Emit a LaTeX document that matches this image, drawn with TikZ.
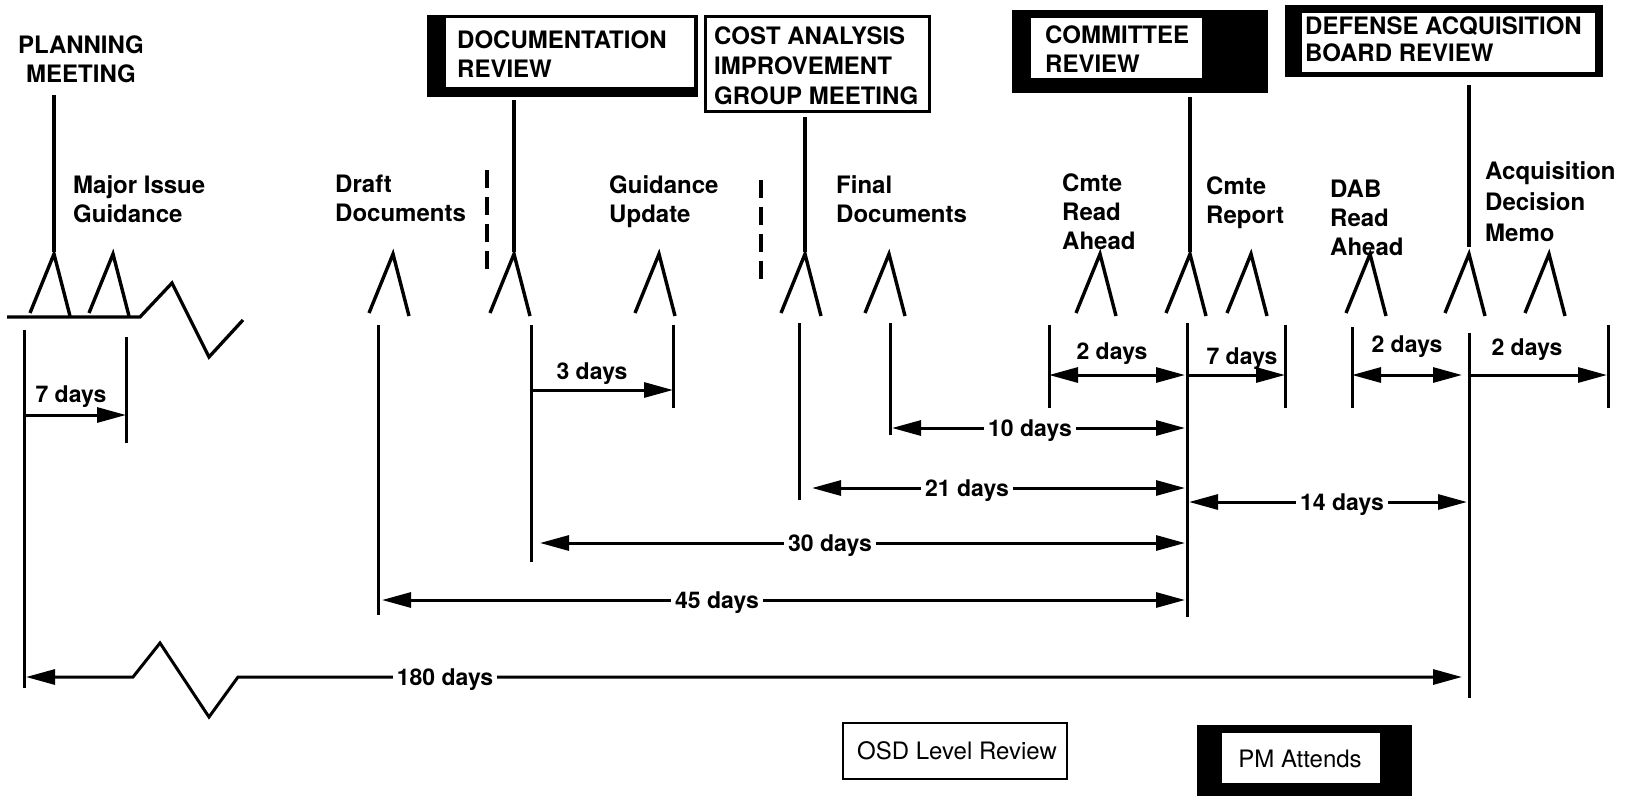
\documentclass[tikz,border=0pt]{standalone}
\usepackage{fontspec}
\setmainfont{TeX Gyre Heros}
\usetikzlibrary{arrows.meta}
\begin{document}
\begin{tikzpicture}[x=1pt,y=-1pt,
  ln/.style={line width=3.3pt},
  dim/.style={line width=3pt},
  >={Triangle[length=29pt,width=15pt]},
  hd/.style={font=\fontsize{24}{29}\selectfont\bfseries,align=left,anchor=north west,inner sep=0pt},
  dl/.style={font=\fontsize{23}{29}\selectfont\bfseries,inner sep=0pt,anchor=base},
  il/.style={font=\fontsize{23}{29}\selectfont\bfseries,anchor=base,fill=white,inner xsep=4pt,inner ysep=1pt},
  tri/.pic={\draw[line width=3.4pt,line join=miter] (-24,59) -- (0,0) -- (16,62);},
  dashln/.style={line width=3.3pt,dash pattern=on 18pt off 9pt}
]
\useasboundingbox (0,0) rectangle (1630,796);

% ---------- header boxes ----------
\fill (427,15) rectangle (698,97);
\fill[white] (446,18) rectangle (694,87);
\node[hd] (doc) at (457,31) {DOCUMENTATION\\REVIEW};

\draw[line width=3pt,fill=white] (705.5,16.5) rectangle (929.5,111.5);
\node[hd,font=\fontsize{24}{30}\selectfont\bfseries] (cost) at (714,27) {COST ANALYSIS\\IMPROVEMENT\\GROUP MEETING};

\fill (1012,10) rectangle (1268,93);
\fill[white] (1031,18) rectangle (1202,78);
\node[hd] (cmte) at (1045,26) {COMMITTEE\\REVIEW};

\fill (1285,5) rectangle (1603,77);
\fill[white] (1302,13) rectangle (1595,72);
\node[hd,font=\fontsize{24}{26.5}\selectfont\bfseries] (dab) at (1305,17) {DEFENSE ACQUISITION\\BOARD REVIEW};

\node[hd,align=center,anchor=north] (plan) at (81,36) {PLANNING\\MEETING};

% ---------- event labels ----------
\node[hd] (mig) at (73,175) {Major Issue\\Guidance};
\node[hd] (dd) at (335,175) {Draft\\Documents};
\node[hd] (gu) at (609,175) {Guidance\\Update};
\node[hd] (fd) at (836,175) {Final\\Documents};
\node[hd] (cra) at (1062,174) {Cmte\\Read\\Ahead};
\node[hd] (cr) at (1206,177) {Cmte\\Report};
\node[hd] (dra) at (1330,180) {DAB\\Read\\Ahead};
\node[hd,font=\fontsize{24}{31}\selectfont\bfseries] (adm) at (1485,161) {Acquisition\\Decision\\Memo};

% ---------- upper milestone lines ----------
\coordinate (pT) at (54,95);   \coordinate (pB) at (54,252);
\coordinate (dT) at (514,100); \coordinate (dB) at (514,252);
\coordinate (cT) at (805,117); \coordinate (cB) at (805,252);
\coordinate (mT) at (1190,97); \coordinate (mB) at (1190,252);
\coordinate (bT) at (1469,85); \coordinate (bB) at (1469,247);
\draw[ln] (pT) -- (pB);
\draw[ln] (dT) -- (dB);
\draw[ln] (cT) -- (cB);
\draw[ln] (mT) -- (mB);
\draw[ln] (bT) -- (bB);

\coordinate (x1T) at (487,170); \coordinate (x1B) at (487,277);
\coordinate (x2T) at (761,180); \coordinate (x2B) at (761,286);
\draw[dashln] (x1T) -- (x1B);
\draw[dashln] (x2T) -- (x2B);

% ---------- triangles ----------
\foreach \nm/\x in {t1/54,t2/113,t3/393,t4/514,t5/659,t6/805,t7/889,t8/1100,t9/1190,t10/1251,t11/1370,t12/1469,t13/1549}
  \pic (\nm) at (\x,254) {tri};

% baseline with break
\coordinate (z0) at (7,317); \coordinate (z1) at (140,317); \coordinate (z2) at (172,283);
\coordinate (z3) at (209,357); \coordinate (z4) at (243,320);
\draw[ln,line join=miter] (z0) -- (z1) -- (z2) -- (z3) -- (z4);

% ---------- lower extension lines ----------
\coordinate (L0T) at (24,330);   \coordinate (L0B) at (24,688);
\coordinate (L1T) at (126,337);  \coordinate (L1B) at (126,443);
\coordinate (L2T) at (378,325);  \coordinate (L2B) at (378,615);
\coordinate (L3T) at (531,325);  \coordinate (L3B) at (531,562);
\coordinate (L4T) at (673,325);  \coordinate (L4B) at (673,408);
\coordinate (L5T) at (799,323);  \coordinate (L5B) at (799,500);
\coordinate (L6T) at (890,323);  \coordinate (L6B) at (890,435);
\coordinate (L7T) at (1049,325); \coordinate (L7B) at (1049,408);
\coordinate (L8T) at (1187,323); \coordinate (L8B) at (1187,617);
\coordinate (L9T) at (1285,325); \coordinate (L9B) at (1285,408);
\coordinate (L10T) at (1352,327);\coordinate (L10B) at (1352,408);
\coordinate (L11T) at (1469,333);\coordinate (L11B) at (1469,698);
\coordinate (L12T) at (1608,325);\coordinate (L12B) at (1608,408);
\foreach \i in {0,...,12} \draw[dim] (L\i T) -- (L\i B);

% ---------- dimensions ----------
\coordinate (a7s) at (24,415);  \coordinate (a7e) at (126,415);
\draw[dim,->] (a7s) -- (a7e);
\node[dl] (l7) at (71,402) {7 days};

\coordinate (a3s) at (531,390); \coordinate (a3e) at (673,390);
\draw[dim,->] (a3s) -- (a3e);
\node[dl] (l3) at (592,379) {3 days};

\coordinate (c2s) at (1049,375); \coordinate (c2e) at (1185,375);
\draw[dim,<->] (c2s) -- (c2e);
\node[dl] (lc2) at (1112,359) {2 days};

\coordinate (r7s) at (1187,375); \coordinate (r7e) at (1285,375);
\draw[dim,->] (r7s) -- (r7e);
\node[dl] (lr7) at (1242,364) {7 days};

\coordinate (b2s) at (1352,375); \coordinate (b2e) at (1462,375);
\draw[dim,<->] (b2s) -- (b2e);
\node[dl] (lb2) at (1407,352) {2 days};

\coordinate (m2s) at (1469,375); \coordinate (m2e) at (1607,375);
\draw[dim,->] (m2s) -- (m2e);
\node[dl] (lm2) at (1527,355) {2 days};

\coordinate (a10s) at (892,428); \coordinate (a10e) at (1185,428);
\draw[dim,<->] (a10s) -- (a10e);
\node[il] (l10) at (1030,436.5) {10 days};

\coordinate (a21s) at (812,488); \coordinate (a21e) at (1185,488);
\draw[dim,<->] (a21s) -- (a21e);
\node[il] (l21) at (967,496.5) {21 days};

\coordinate (a14s) at (1189,502); \coordinate (a14e) at (1467,502);
\draw[dim,<->] (a14s) -- (a14e);
\node[il] (l14) at (1342,510.5) {14 days};

\coordinate (a30s) at (540,543); \coordinate (a30e) at (1185,543);
\draw[dim,<->] (a30s) -- (a30e);
\node[il] (l30) at (830,551.5) {30 days};

\coordinate (a45s) at (382,600); \coordinate (a45e) at (1185,600);
\draw[dim,<->] (a45s) -- (a45e);
\node[il] (l45) at (717,608.5) {45 days};

\coordinate (a180s) at (26,677); \coordinate (k1) at (133,677); \coordinate (k2) at (160,643);
\coordinate (k3) at (209,717); \coordinate (k4) at (238,677); \coordinate (a180e) at (1462,677);
\draw[dim,<->,line join=miter] (a180s) -- (k1) -- (k2) -- (k3) -- (k4) -- (a180e);
\node[il] (l180) at (445,685.5) {180 days};

% ---------- legend ----------
\draw[line width=2.6pt] (843,723) rectangle (1067,779);
\node[font=\fontsize{24}{29}\selectfont,inner sep=0pt] (osd) at (957,751) {OSD Level Review};

\fill (1197,725) rectangle (1412,796);
\fill[white] (1222,733) rectangle (1380,783);
\node[font=\fontsize{24}{29}\selectfont,inner sep=0pt] (pm) at (1300,759) {PM Attends};
\end{tikzpicture}
\end{document}
